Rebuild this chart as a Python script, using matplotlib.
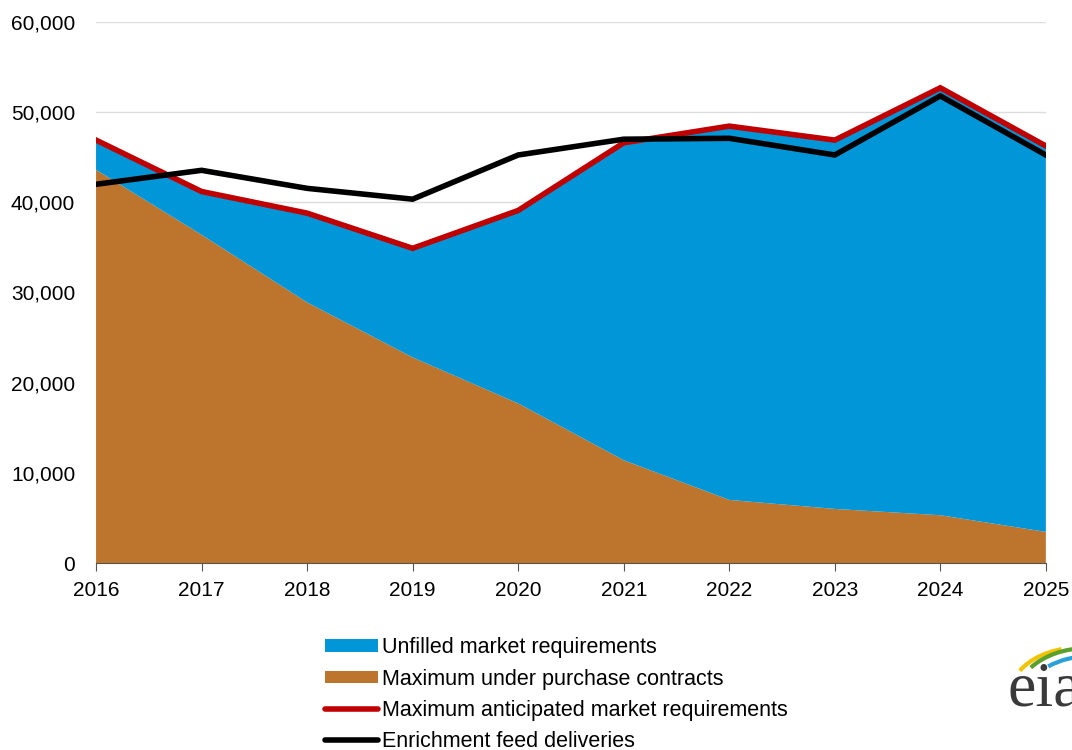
import matplotlib.pyplot as plt
from matplotlib.patches import Patch, Arc
from matplotlib.lines import Line2D
from matplotlib.ticker import FuncFormatter

plt.rcParams['font.family'] = ['Liberation Sans', 'DejaVu Sans']

years = [2016, 2017, 2018, 2019, 2020, 2021, 2022, 2023, 2024, 2025]
purchase_contracts = [43600, 36400, 28900, 22800, 17700, 11400, 7000, 6000, 5300, 3450]
max_anticipated = [46900, 41200, 38800, 34900, 39100, 46600, 48450, 46900, 52700, 46250]
feed_deliveries = [42000, 43550, 41550, 40350, 45250, 47000, 47100, 45250, 51800, 45250]
unfilled = [m - p for m, p in zip(max_anticipated, purchase_contracts)]

blue = '#0096d7'
orange = '#bd742c'
red = '#c00000'

fig = plt.figure(figsize=(10.72, 7.5), dpi=100)
ax = fig.add_axes([0.0896, 0.2493, 0.886, 0.7214])

ax.stackplot(years, purchase_contracts, unfilled, colors=[orange, blue], linewidth=0)
ax.plot(years, max_anticipated, color=red, linewidth=4, solid_joinstyle='miter')
ax.plot(years, feed_deliveries, color='black', linewidth=4, solid_joinstyle='miter')

ax.set_xlim(2016, 2025)
ax.set_ylim(0, 60000)
ax.set_xticks(years)
ax.set_yticks(range(0, 60001, 10000))
ax.yaxis.set_major_formatter(FuncFormatter(lambda v, p: f'{int(v):,}'))
ax.grid(axis='y', color='#dddddd', linewidth=1)
ax.set_axisbelow(True)
for s in ['top', 'right', 'left']:
    ax.spines[s].set_visible(False)
ax.spines['bottom'].set_color('#555555')
ax.spines['bottom'].set_zorder(5)
ax.tick_params(axis='y', length=0, labelsize=15, pad=15)
ax.tick_params(axis='x', length=6, color='#555555', labelsize=15, pad=7)

handles = [
    Patch(facecolor=blue, edgecolor='none'),
    Patch(facecolor=orange, edgecolor='none'),
    Line2D([], [], color=red, linewidth=4, solid_capstyle='round'),
    Line2D([], [], color='black', linewidth=4, solid_capstyle='round'),
]
labels = ['Unfilled market requirements', 'Maximum under purchase contracts',
          'Maximum anticipated market requirements', 'Enrichment feed deliveries']
fig.legend(handles, labels, loc='upper left', bbox_to_anchor=(0.303, 0.150),
           frameon=False, fontsize=15.5, handlelength=2.45, handleheight=0.55,
           handletextpad=0.2, labelspacing=0.47, borderpad=0, borderaxespad=0)

# eia logo (partly cut off at the right edge, as in the original)
lax = fig.add_axes([1000 / 1072, 1 - 720 / 750, 72 / 1072, 80 / 750])
lax.set_xlim(0, 72)
lax.set_ylim(0, 80)
lax.axis('off')
lax.text(7, 14, 'eia', fontsize=46, family='Liberation Serif',
         color='#3a3a3a', ha='left', va='baseline', clip_on=True)
lax.add_patch(Arc((80, 25), 140, 95, theta1=112, theta2=158, color='#f2c300', linewidth=3))
lax.add_patch(Arc((88, 22), 144, 100, theta1=92, theta2=152, color='#5aa02c', linewidth=3))
lax.add_patch(Arc((92, 24), 130, 80, theta1=92, theta2=146, color='#2aa0d8', linewidth=3))

fig.savefig('out.png', dpi=100)
